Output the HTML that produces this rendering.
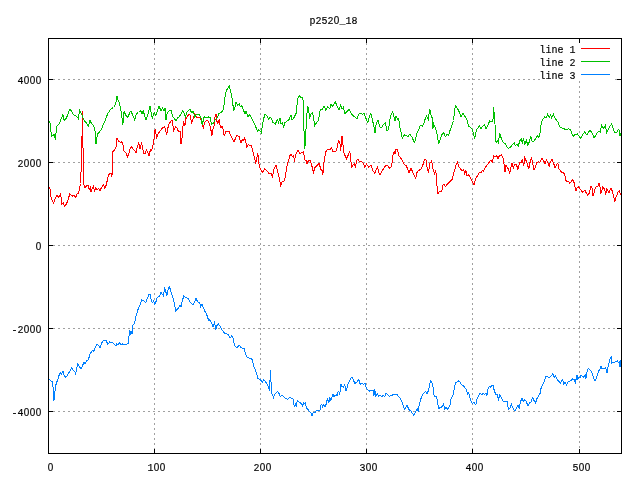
<!DOCTYPE html>
<html><head><meta charset="utf-8"><style>
html,body{margin:0;padding:0;background:#fff;}
body{width:640px;height:480px;overflow:hidden;position:relative;}
svg{position:absolute;left:0;top:0;}
.t{font-family:"Liberation Mono","DejaVu Sans Mono",monospace;font-size:11.60px;fill:#000;}
.z{font-family:"Liberation Sans",sans-serif;font-size:11.5px;}
</style></head><body>
<svg width="640" height="480" viewBox="0 0 640 480">
<rect x="0" y="0" width="640" height="480" fill="#fff"/>
<g stroke="#a0a0a0" stroke-width="1" stroke-dasharray="2 3" shape-rendering="crispEdges"><line x1="154.5" y1="43" x2="154.5" y2="449"/><line x1="260.5" y1="43" x2="260.5" y2="449"/><line x1="366.5" y1="43" x2="366.5" y2="449"/><line x1="472.5" y1="43" x2="472.5" y2="449"/><line x1="579.5" y1="81" x2="579.5" y2="449"/><line x1="53" y1="79.5" x2="540" y2="79.5"/><line x1="615" y1="79.5" x2="617" y2="79.5"/><line x1="53" y1="162.5" x2="617" y2="162.5"/><line x1="53" y1="245.5" x2="617" y2="245.5"/><line x1="53" y1="328.5" x2="617" y2="328.5"/><line x1="53" y1="411.5" x2="617" y2="411.5"/></g>
<polyline fill="none" stroke="#ff0000" stroke-width="1" stroke-linejoin="miter" shape-rendering="crispEdges" points="49.75,186.75 51.00,196.75 52.25,200.50 53.75,203.00 55.40,198.00 57.00,194.90 58.50,197.40 60.75,193.60 61.60,204.25 63.25,203.00 64.75,206.75 66.60,203.60 68.25,199.25 69.75,194.00 72.25,196.10 74.10,195.50 75.75,197.40 77.25,193.60 78.50,193.00 79.50,188.50 80.50,183.50 81.50,161.50 82.50,111.50 83.50,182.50 84.50,187.00 85.40,187.40 86.60,185.50 87.90,184.90 89.10,189.25 90.40,187.40 91.00,192.40 92.25,188.60 93.25,186.10 94.50,191.10 95.75,188.00 97.25,189.90 98.50,188.60 100.00,190.50 101.60,187.40 103.50,184.90 104.75,188.00 106.25,184.90 107.25,180.50 108.25,175.50 109.75,173.25 111.00,173.00 112.00,176.75 112.25,163.50 112.90,151.75 114.10,150.50 116.00,146.75 117.00,138.50 118.50,141.10 120.40,142.50 121.60,141.75 122.90,144.25 124.10,151.10 126.00,153.00 127.50,156.75 128.50,155.50 129.75,149.25 131.60,146.75 133.50,149.90 134.75,150.50 136.00,153.00 137.25,146.75 138.75,143.00 140.00,148.60 141.60,143.60 142.90,149.25 143.75,153.60 145.00,153.60 146.25,149.90 147.90,152.40 148.90,156.10 150.40,149.90 151.60,150.50 152.90,145.50 153.50,144.25 154.10,138.00 154.75,130.50 155.40,129.90 156.60,138.60 157.50,134.90 159.10,132.40 160.40,130.50 162.90,127.50 164.75,126.75 166.60,134.90 167.90,128.00 169.10,123.50 172.00,119.90 173.75,130.50 175.75,126.75 177.25,128.50 178.50,131.75 180.00,131.10 181.00,143.60 182.00,138.00 182.50,131.75 183.50,121.10 184.75,126.10 186.00,118.50 187.90,115.50 189.75,114.25 191.60,122.40 193.50,118.00 194.75,113.50 196.60,117.40 199.75,118.00 202.25,121.10 203.25,128.50 204.75,122.40 206.60,120.75 208.50,121.10 210.00,125.50 211.00,130.50 212.00,135.50 213.25,128.00 214.10,125.50 215.00,116.75 216.00,114.00 216.60,120.50 217.90,123.60 219.10,119.25 220.40,127.40 222.25,126.75 223.50,130.50 224.10,136.10 226.00,131.10 227.25,131.75 229.10,131.75 231.00,136.10 232.90,139.90 234.10,141.75 235.40,138.60 237.00,135.25 239.10,136.75 241.00,142.75 242.25,139.90 243.25,140.50 244.50,138.00 245.75,141.75 247.00,147.40 248.25,144.00 249.75,145.50 251.00,144.90 252.25,148.60 253.50,153.60 254.50,158.00 255.75,163.60 257.00,156.75 257.90,153.60 258.50,160.50 259.50,167.40 261.00,169.90 262.50,172.40 264.75,168.60 266.60,170.50 269.10,173.60 270.75,173.00 272.50,176.75 273.75,169.25 274.75,168.00 276.00,164.90 277.25,170.50 279.10,177.40 280.75,185.50 282.25,181.10 284.10,181.10 285.40,176.75 286.60,168.00 287.90,162.40 288.50,160.50 289.75,156.10 291.00,154.00 292.25,156.75 293.25,155.50 294.50,159.90 295.75,154.90 297.90,149.90 299.75,153.60 301.60,152.40 303.50,152.00 304.75,159.90 306.00,160.50 307.00,163.60 308.25,161.10 310.00,160.25 311.60,164.90 313.50,172.40 315.00,167.40 317.25,165.50 319.10,163.00 320.75,169.25 322.00,170.50 322.90,174.90 323.75,163.60 325.00,156.10 326.25,150.50 327.90,149.25 329.75,149.90 331.60,148.00 332.90,151.75 334.75,151.75 336.00,151.10 337.25,146.75 338.75,139.90 340.00,144.25 340.75,150.50 342.00,135.75 342.90,143.00 343.50,151.75 344.75,154.90 346.60,158.60 348.25,154.90 349.75,151.10 350.40,156.75 351.60,167.40 352.90,165.50 354.10,163.60 355.40,166.75 356.60,160.50 357.90,159.00 359.50,161.75 361.60,161.10 363.25,163.60 365.00,167.40 366.60,164.25 368.25,166.10 368.50,167.40 371.00,164.90 372.90,170.50 374.75,173.60 376.25,169.25 377.50,166.75 378.50,171.75 380.00,174.90 382.25,170.50 384.10,168.00 386.00,164.90 387.90,166.10 389.75,168.60 391.60,166.10 392.90,155.50 394.10,151.75 395.00,153.60 396.00,149.00 397.50,149.00 398.75,155.50 400.75,158.00 402.50,161.10 404.10,164.25 406.00,165.50 407.50,168.60 409.10,173.00 411.00,168.00 412.50,171.75 413.75,174.90 415.75,178.00 417.00,172.40 418.75,170.50 420.75,169.25 422.50,166.10 424.10,161.10 425.00,159.00 426.25,160.50 427.25,168.60 428.50,171.75 430.00,163.00 431.60,161.10 433.25,169.90 434.50,173.60 435.40,171.10 436.25,174.25 437.25,189.25 437.90,193.60 439.10,191.75 441.60,191.75 442.90,184.90 444.10,184.00 445.40,186.75 447.25,184.25 449.10,182.40 451.00,180.50 452.25,179.25 453.25,174.90 454.75,169.90 456.25,164.25 457.60,162.00 458.50,166.10 460.40,168.60 462.00,170.50 463.50,169.50 464.75,173.60 465.75,169.90 467.00,175.50 468.50,174.90 470.40,177.40 472.25,181.75 474.10,184.90 475.40,179.25 476.60,177.40 477.90,174.90 479.10,173.00 481.00,172.40 482.50,170.50 483.50,171.50 485.40,167.40 487.25,164.90 488.50,163.60 489.75,161.10 491.00,159.90 492.25,162.40 493.75,156.10 495.40,156.75 496.60,155.50 497.90,158.60 499.75,155.25 501.60,154.90 502.90,157.40 504.10,164.90 505.00,171.75 506.00,165.50 507.25,167.40 508.50,169.25 509.75,173.60 511.00,166.75 512.00,163.00 513.25,168.00 514.75,164.25 516.25,164.25 517.90,169.25 519.75,162.40 521.00,163.00 522.25,159.90 523.75,166.10 524.75,158.00 526.00,160.50 527.25,163.60 528.75,169.25 530.40,160.50 531.60,158.00 532.90,164.25 534.10,169.90 535.40,166.75 537.00,162.40 538.50,161.75 540.00,162.40 542.00,158.00 543.50,160.50 545.00,163.60 546.60,159.90 547.90,162.40 549.10,166.75 550.40,161.75 552.00,159.25 553.50,163.00 555.00,167.40 556.60,164.90 557.90,163.00 559.10,169.25 560.75,171.10 562.00,173.00 563.50,172.40 564.75,174.90 566.00,180.50 567.25,181.75 568.25,181.10 569.75,183.60 571.00,181.75 572.50,179.90 573.75,181.10 574.75,186.10 576.00,190.50 577.25,187.40 578.50,186.75 580.40,189.25 582.25,192.40 583.50,191.10 585.00,190.50 586.25,193.00 587.90,195.50 589.25,193.00 590.00,190.00 591.10,185.90 592.25,188.90 593.00,195.60 594.10,193.00 595.10,188.50 596.40,186.25 597.90,186.60 599.00,182.90 599.90,186.60 600.90,193.75 601.90,190.00 602.75,187.00 604.25,188.90 605.75,193.75 606.90,188.90 608.00,190.75 608.90,193.00 611.00,187.90 612.10,190.75 613.25,194.50 614.15,198.60 614.90,202.00 615.90,197.10 617.00,194.90 618.10,191.90 619.10,190.75 620.15,193.00 621.10,194.90"/>
<polyline fill="none" stroke="#00c000" stroke-width="1" stroke-linejoin="miter" shape-rendering="crispEdges" points="49.75,120.50 50.40,126.50 51.50,136.50 52.90,135.50 54.10,134.50 55.50,139.50 56.50,126.10 58.50,125.50 60.50,120.50 62.90,114.50 64.10,120.50 66.50,118.00 68.50,112.50 70.00,109.00 72.25,112.50 74.10,115.50 76.50,116.10 78.25,118.50 79.75,110.50 81.25,113.50 82.90,117.50 84.75,121.50 86.50,123.00 88.10,126.50 90.00,120.50 91.50,123.50 93.75,126.10 95.50,133.00 96.00,144.00 97.50,134.25 99.75,131.50 101.50,129.50 102.50,126.50 104.10,123.00 106.00,118.00 107.90,113.50 109.75,110.50 111.50,108.50 113.50,107.50 115.50,104.50 117.00,96.50 118.50,101.50 119.50,103.00 121.50,113.50 122.90,124.50 124.10,111.50 126.00,115.50 127.90,117.50 129.75,112.50 131.00,111.10 132.90,115.50 134.75,119.90 136.50,113.50 138.50,112.50 140.50,110.50 142.00,113.50 143.25,111.10 146.00,119.90 147.90,114.25 150.00,106.50 152.25,118.50 154.10,112.50 155.75,115.50 157.25,111.50 159.10,106.10 161.00,111.10 162.50,108.00 164.10,110.50 165.00,108.00 166.00,119.50 167.25,113.00 168.75,111.10 171.00,110.25 172.50,116.10 176.00,120.75 177.90,117.75 179.75,116.10 182.90,110.50 185.40,117.00 187.25,111.50 189.75,109.00 191.60,112.50 193.50,111.50 194.75,116.75 196.60,114.25 199.10,114.00 201.00,118.00 202.25,124.90 204.10,116.75 206.00,118.00 207.90,117.50 208.50,117.00 210.00,117.40 211.60,124.25 213.50,123.00 215.40,119.25 217.25,118.00 219.10,113.25 221.00,112.40 222.25,111.10 223.50,110.50 224.75,98.00 226.00,91.75 227.50,88.60 229.10,85.75 230.40,90.50 232.00,98.00 232.90,104.90 233.90,110.50 235.00,106.75 236.00,102.00 237.50,105.50 239.10,103.60 240.40,106.75 241.60,105.50 243.50,110.50 245.00,113.60 246.00,111.10 247.90,116.75 249.75,114.90 251.60,118.00 253.50,121.75 255.75,126.75 257.25,131.10 258.50,129.90 260.40,131.10 261.25,132.40 262.25,126.10 263.50,119.25 265.00,114.00 267.25,116.10 268.50,119.25 270.00,116.75 271.00,118.00 272.90,122.40 275.40,124.25 277.25,119.25 278.50,122.40 280.00,118.00 281.00,123.60 282.25,123.00 283.75,127.40 285.00,122.40 286.60,121.75 287.90,120.25 288.50,120.75 289.75,118.00 291.00,114.90 292.00,119.90 294.10,117.40 296.00,113.60 297.00,105.50 297.90,98.00 299.10,95.75 301.00,97.40 302.90,98.00 303.50,108.00 304.10,134.25 304.70,149.25 305.30,142.50 306.00,129.25 307.00,113.60 307.90,106.10 308.75,111.75 309.75,117.40 311.00,114.25 312.50,112.75 313.50,118.00 314.75,125.50 316.60,122.40 318.50,120.50 320.00,110.75 321.25,109.00 322.50,109.25 324.10,106.10 325.75,109.90 327.90,106.75 329.75,108.60 331.00,104.25 332.25,106.75 335.40,101.75 337.25,106.75 339.10,109.90 340.75,104.90 342.00,109.25 343.25,107.40 345.00,113.60 346.60,111.75 349.10,109.25 351.00,113.00 352.90,115.50 354.75,116.75 357.00,118.60 358.50,114.25 361.00,113.00 362.25,114.50 364.10,113.00 366.00,118.60 367.90,123.00 368.50,119.90 369.50,116.10 371.00,113.60 372.25,119.25 373.75,125.50 375.00,133.00 376.25,123.60 377.90,119.90 379.75,126.75 381.60,127.75 383.50,124.25 385.40,123.00 387.00,131.10 388.50,129.25 390.00,119.25 391.25,114.25 392.50,111.75 393.50,114.90 395.00,121.10 396.00,116.10 397.50,119.25 398.75,118.60 399.75,126.75 400.75,130.50 402.25,138.00 404.10,134.90 406.00,135.50 407.90,136.75 409.75,134.25 412.25,137.40 414.10,142.40 415.40,139.90 416.60,134.25 418.25,130.50 420.40,125.50 422.25,126.10 424.10,123.00 425.40,118.00 426.60,116.10 428.25,119.25 429.10,113.60 429.75,109.00 430.75,114.25 432.00,117.40 432.90,129.25 433.50,123.60 435.00,126.75 436.60,131.75 437.90,138.60 438.50,144.25 440.40,139.25 442.00,134.50 443.50,132.40 445.40,136.75 447.25,134.25 448.50,135.50 449.75,131.10 451.60,126.75 453.50,120.50 454.75,109.25 455.75,105.75 457.50,108.60 459.50,112.40 461.00,116.75 462.90,113.00 464.75,116.10 466.60,118.60 468.50,126.10 470.75,127.40 472.50,129.90 473.50,134.25 474.75,137.75 476.00,131.75 477.25,128.60 479.50,126.10 481.00,128.60 482.90,126.10 484.75,124.90 486.00,128.60 487.90,124.90 489.75,120.75 491.60,121.75 492.90,121.10 493.25,114.90 493.90,107.40 494.25,122.40 495.00,124.25 495.40,140.50 496.25,142.40 497.50,140.50 498.25,142.40 499.75,133.60 501.00,137.40 503.25,142.40 505.40,143.60 507.00,146.75 508.25,148.60 510.40,147.40 512.25,144.90 514.10,142.75 515.40,145.50 517.00,144.25 518.50,146.10 519.50,141.10 521.25,139.25 522.25,143.00 523.50,138.60 524.75,144.25 526.60,139.90 527.50,145.50 528.50,144.25 529.70,140.25 530.75,135.75 531.80,141.00 533.75,141.75 536.00,138.00 537.20,135.30 538.70,137.25 539.75,135.00 540.80,126.75 541.70,121.50 542.75,119.25 544.70,117.00 546.20,117.75 547.70,114.30 549.20,117.30 550.70,114.75 551.75,117.75 553.25,114.00 554.75,117.75 556.25,120.00 557.75,121.50 559.70,126.75 562.25,128.25 564.50,129.00 566.75,129.75 568.70,128.70 570.50,129.75 572.00,134.25 573.20,136.50 575.00,134.70 577.25,133.80 579.20,136.20 580.70,138.75 582.50,135.00 584.75,132.00 587.00,135.00 590.00,129.75 592.25,133.50 594.20,138.00 596.00,135.00 598.25,131.25 600.20,132.00 601.70,125.25 603.50,128.25 605.30,125.25 606.80,132.75 608.75,128.25 611.75,123.75 613.25,129.00 614.75,132.75 617.00,132.00 618.80,129.00 620.00,135.75 621.20,132.75"/>
<polyline fill="none" stroke="#0080ff" stroke-width="1" stroke-linejoin="miter" shape-rendering="crispEdges" points="49.30,379.50 51.00,381.00 52.70,381.50 53.30,391.50 54.00,400.50 54.50,397.50 55.00,391.50 56.00,384.50 57.00,381.50 58.00,379.00 59.30,374.50 60.50,373.00 61.50,374.00 63.00,371.00 64.00,375.00 65.70,377.50 67.00,376.00 68.50,373.50 70.30,370.50 71.70,368.00 73.00,370.00 75.00,372.00 75.75,374.00 76.60,368.60 77.90,363.60 79.50,366.75 81.00,368.60 82.25,366.75 83.75,362.40 85.00,363.60 86.60,361.10 88.25,359.50 89.50,356.10 90.40,353.00 91.60,351.75 92.90,349.90 93.75,351.10 95.40,347.40 97.00,344.00 98.50,345.50 100.00,347.75 101.25,344.50 102.50,341.10 104.50,340.50 106.00,339.90 107.00,342.40 107.90,344.25 109.50,342.00 111.00,342.40 112.90,343.00 114.50,344.50 116.00,345.75 116.50,343.80 117.80,344.80 119.80,342.80 121.20,344.80 122.80,343.80 123.80,345.00 126.20,344.80 127.20,343.70 128.20,343.20 128.80,341.80 129.00,335.80 129.80,329.80 130.50,334.50 131.20,331.50 132.00,333.80 132.50,329.20 133.00,325.20 134.00,323.80 134.80,322.50 135.40,317.40 137.00,313.00 138.25,308.60 139.75,305.50 141.60,299.90 143.50,300.75 145.75,302.40 147.50,298.00 148.75,294.90 150.00,294.00 151.00,299.25 152.25,302.75 153.50,301.10 154.75,304.25 155.75,302.40 157.00,298.00 158.50,296.75 159.75,296.10 161.00,292.40 162.25,294.25 163.25,295.50 164.75,288.60 165.75,291.75 167.00,295.50 168.50,287.40 169.50,286.75 171.00,291.75 172.90,298.00 174.50,304.25 175.75,311.10 177.25,309.25 178.50,308.25 180.00,305.50 181.00,306.75 182.25,301.10 183.75,296.10 185.40,297.40 187.00,298.00 188.75,299.25 190.40,302.40 191.60,303.60 193.25,304.90 194.75,301.75 196.00,298.00 197.00,300.50 198.25,302.40 199.75,303.00 200.75,306.75 202.00,304.25 203.25,307.40 204.75,311.10 206.00,313.00 207.00,315.50 208.25,319.90 208.50,319.00 210.00,320.50 211.25,322.40 212.90,326.75 214.50,322.40 215.75,329.50 217.00,325.50 218.50,324.00 220.00,326.10 221.60,329.50 223.25,331.50 224.75,333.60 226.60,333.60 228.50,334.90 230.00,338.00 231.60,336.10 232.90,337.40 234.10,343.00 235.40,346.75 237.25,347.40 239.10,344.90 240.75,347.40 242.25,348.00 244.10,348.60 245.40,353.00 246.60,356.75 249.10,358.00 251.00,358.60 252.25,359.90 253.50,365.50 255.40,369.90 256.60,373.60 257.90,378.60 260.00,379.25 261.60,381.10 262.50,382.40 263.75,379.90 265.40,381.50 266.50,383.20 267.50,385.50 268.50,386.50 269.50,390.50 270.50,370.50 271.50,393.50 272.50,394.50 273.50,397.50 274.50,394.50 275.80,393.20 276.25,392.40 277.90,391.50 279.10,393.60 280.40,396.75 282.00,394.90 283.50,396.75 285.40,398.60 287.50,399.25 288.50,398.60 290.00,397.00 291.25,398.00 292.90,398.00 293.75,403.00 294.50,407.40 295.40,403.00 296.25,406.75 297.25,400.25 298.50,401.75 300.00,402.40 301.60,404.25 302.50,406.10 303.50,403.00 304.50,403.60 305.40,403.00 306.25,407.40 307.50,409.25 307.85,409.40 309.10,411.25 310.25,412.00 311.40,413.50 312.10,415.75 312.90,413.50 314.00,412.00 315.10,412.40 316.25,410.90 318.10,410.90 319.60,410.90 320.40,408.60 320.90,404.90 321.90,404.10 322.60,407.10 323.75,404.50 324.90,406.75 326.00,404.50 326.90,400.75 327.65,398.90 328.85,402.60 329.75,398.10 330.90,400.40 331.85,397.40 332.90,394.00 333.90,397.00 335.00,395.50 336.35,394.75 337.10,395.90 338.00,392.10 338.90,391.40 339.90,394.75 340.10,390.25 340.60,388.40 341.00,383.90 341.75,386.10 343.25,387.25 344.75,385.00 345.90,390.25 346.40,390.50 347.60,385.50 349.50,380.50 352.00,376.75 353.50,380.50 355.10,383.60 357.00,381.75 358.90,379.25 360.10,384.25 361.75,383.00 363.25,384.25 365.10,383.60 366.40,388.60 368.00,389.90 369.50,391.10 371.40,390.50 373.00,390.25 373.90,395.50 374.75,389.00 375.75,396.10 377.25,393.60 378.50,396.10 380.10,394.90 381.75,396.75 383.25,395.25 384.75,396.75 386.00,393.25 387.60,394.90 389.50,396.10 391.40,395.90 393.90,394.00 395.75,394.25 397.00,394.00 398.50,396.75 400.10,398.00 401.75,401.75 403.25,405.50 404.50,409.25 405.75,407.40 407.00,404.90 408.25,408.00 409.50,410.50 410.75,410.50 412.00,413.00 413.50,414.90 414.75,413.60 416.00,411.10 417.25,409.00 418.25,411.75 419.25,404.25 420.75,399.25 422.00,396.10 423.25,393.60 424.50,392.40 425.75,391.10 427.00,393.60 428.50,390.50 429.50,384.90 430.50,380.75 431.75,382.40 433.00,386.75 434.25,396.75 435.50,396.10 436.75,397.40 437.60,402.40 438.50,408.60 440.10,407.75 442.00,406.75 443.50,404.00 444.75,409.25 446.00,407.00 447.25,409.25 448.90,407.40 450.10,404.90 451.00,398.60 452.25,396.75 453.50,394.25 454.50,386.75 455.50,382.75 457.25,382.00 458.90,380.75 460.50,383.00 461.75,384.90 463.00,385.50 464.75,387.40 466.40,389.50 467.60,393.60 468.50,392.40 470.10,398.00 471.40,401.75 472.60,403.60 473.90,402.40 475.75,404.90 477.00,399.25 478.50,396.10 479.75,393.25 481.40,394.50 483.25,393.60 484.75,394.25 486.00,393.25 487.00,395.50 488.00,389.00 489.25,386.75 490.50,387.40 492.00,384.90 493.00,385.50 494.25,390.50 495.75,394.25 497.25,394.90 498.50,399.25 499.75,394.90 501.00,396.75 502.25,399.25 503.50,401.75 504.50,401.75 505.50,401.75 507.00,401.10 508.00,406.75 508.60,409.25 509.90,408.00 511.50,404.25 512.40,406.75 513.60,409.25 514.90,411.00 516.10,408.60 518.00,405.50 519.25,408.00 520.50,401.75 522.00,398.00 523.25,401.75 524.50,399.90 526.10,401.10 528.00,406.10 529.50,403.00 531.10,401.75 532.75,397.40 534.00,400.50 535.50,403.00 537.00,398.60 538.60,395.50 540.25,393.00 541.10,388.00 542.75,384.90 544.25,381.10 545.75,376.75 547.00,376.10 548.60,377.75 550.25,376.75 551.75,375.25 553.00,373.60 554.25,377.40 555.50,376.10 557.00,379.25 558.60,381.10 560.25,383.00 561.75,380.50 562.75,379.25 563.60,384.25 564.90,382.40 566.50,384.90 568.00,381.75 569.50,381.10 571.10,380.50 572.50,379.00 574.10,379.40 575.30,382.70 576.20,378.60 577.00,375.00 577.80,378.60 579.00,377.40 580.20,377.60 581.00,375.00 582.25,376.60 583.50,377.00 584.70,375.80 585.30,373.75 585.90,378.60 587.00,372.10 588.10,368.70 589.15,368.90 590.40,370.50 591.60,371.70 592.40,373.75 593.50,377.40 594.40,380.25 595.25,380.65 596.20,378.20 597.30,375.00 598.30,371.70 599.30,370.10 600.10,368.50 600.90,366.00 601.90,368.50 603.00,368.90 604.20,368.70 605.40,368.10 606.20,369.30 607.00,372.90 607.60,368.10 608.25,366.00 609.05,363.20 609.90,359.10 611.10,356.70 611.90,362.80 612.70,362.00 614.75,362.00 616.80,361.60 617.60,360.75 618.40,362.80 619.20,362.00 620.00,367.25 620.60,361.60 621.20,359.90"/>
<g stroke="#000" stroke-width="1" shape-rendering="crispEdges"><rect x="48.5" y="38.5" width="573" height="415" fill="none"/><line x1="154.5" y1="453" x2="154.5" y2="449"/><line x1="154.5" y1="39" x2="154.5" y2="43"/><line x1="260.5" y1="453" x2="260.5" y2="449"/><line x1="260.5" y1="39" x2="260.5" y2="43"/><line x1="366.5" y1="453" x2="366.5" y2="449"/><line x1="366.5" y1="39" x2="366.5" y2="43"/><line x1="472.5" y1="453" x2="472.5" y2="449"/><line x1="472.5" y1="39" x2="472.5" y2="43"/><line x1="579.5" y1="453" x2="579.5" y2="449"/><line x1="579.5" y1="39" x2="579.5" y2="43"/><line x1="49" y1="79.5" x2="53" y2="79.5"/><line x1="621" y1="79.5" x2="617" y2="79.5"/><line x1="49" y1="162.5" x2="53" y2="162.5"/><line x1="621" y1="162.5" x2="617" y2="162.5"/><line x1="49" y1="245.5" x2="53" y2="245.5"/><line x1="621" y1="245.5" x2="617" y2="245.5"/><line x1="49" y1="328.5" x2="53" y2="328.5"/><line x1="621" y1="328.5" x2="617" y2="328.5"/><line x1="49" y1="411.5" x2="53" y2="411.5"/><line x1="621" y1="411.5" x2="617" y2="411.5"/></g>
<g stroke-width="1" shape-rendering="crispEdges"><line x1="581" y1="48.5" x2="610" y2="48.5" stroke="#ff0000"/><line x1="581" y1="61.5" x2="610" y2="61.5" stroke="#00c000"/><line x1="581" y1="74.5" x2="610" y2="74.5" stroke="#0080ff"/></g>
<g opacity="0.999" stroke="#000" stroke-width="0.2"><text class="t" transform="scale(0.8621,1)" y="24.50"><tspan x="359.02">p</tspan><tspan x="365.98">2</tspan><tspan x="372.94">5</tspan><tspan x="379.90">2</tspan><tspan x="387.16" class="z">0</tspan><tspan x="393.82">_</tspan><tspan x="400.78">1</tspan><tspan x="407.74">8</tspan></text>
<text class="t" transform="scale(0.8621,1)" y="84.50"><tspan x="20.30">4</tspan><tspan x="27.56" class="z">0</tspan><tspan x="34.52" class="z">0</tspan><tspan x="41.48" class="z">0</tspan></text>
<text class="t" transform="scale(0.8621,1)" y="167.50"><tspan x="20.30">2</tspan><tspan x="27.56" class="z">0</tspan><tspan x="34.52" class="z">0</tspan><tspan x="41.48" class="z">0</tspan></text>
<text class="t" transform="scale(0.8621,1)" y="250.50"><tspan x="41.48" class="z">0</tspan></text>
<text class="t" transform="scale(0.8621,1)" y="333.50"><tspan x="13.34">-</tspan><tspan x="20.30">2</tspan><tspan x="27.56" class="z">0</tspan><tspan x="34.52" class="z">0</tspan><tspan x="41.48" class="z">0</tspan></text>
<text class="t" transform="scale(0.8621,1)" y="416.50"><tspan x="13.34">-</tspan><tspan x="20.30">4</tspan><tspan x="27.56" class="z">0</tspan><tspan x="34.52" class="z">0</tspan><tspan x="41.48" class="z">0</tspan></text>
<text class="t" transform="scale(0.8621,1)" y="471.50"><tspan x="55.40" class="z">0</tspan></text>
<text class="t" transform="scale(0.8621,1)" y="471.50"><tspan x="171.10">1</tspan><tspan x="178.36" class="z">0</tspan><tspan x="185.32" class="z">0</tspan></text>
<text class="t" transform="scale(0.8621,1)" y="471.50"><tspan x="294.06">2</tspan><tspan x="301.32" class="z">0</tspan><tspan x="308.28" class="z">0</tspan></text>
<text class="t" transform="scale(0.8621,1)" y="471.50"><tspan x="417.02">3</tspan><tspan x="424.28" class="z">0</tspan><tspan x="431.24" class="z">0</tspan></text>
<text class="t" transform="scale(0.8621,1)" y="471.50"><tspan x="539.98">4</tspan><tspan x="547.24" class="z">0</tspan><tspan x="554.20" class="z">0</tspan></text>
<text class="t" transform="scale(0.8621,1)" y="471.50"><tspan x="664.10">5</tspan><tspan x="671.36" class="z">0</tspan><tspan x="678.32" class="z">0</tspan></text>
<text class="t" transform="scale(0.8621,1)" y="53.50"><tspan x="625.82">l</tspan><tspan x="632.78">i</tspan><tspan x="639.74">n</tspan><tspan x="646.70">e</tspan><tspan x="660.62">1</tspan></text>
<text class="t" transform="scale(0.8621,1)" y="66.50"><tspan x="625.82">l</tspan><tspan x="632.78">i</tspan><tspan x="639.74">n</tspan><tspan x="646.70">e</tspan><tspan x="660.62">2</tspan></text>
<text class="t" transform="scale(0.8621,1)" y="79.50"><tspan x="625.82">l</tspan><tspan x="632.78">i</tspan><tspan x="639.74">n</tspan><tspan x="646.70">e</tspan><tspan x="660.62">3</tspan></text></g>
</svg>
</body></html>
